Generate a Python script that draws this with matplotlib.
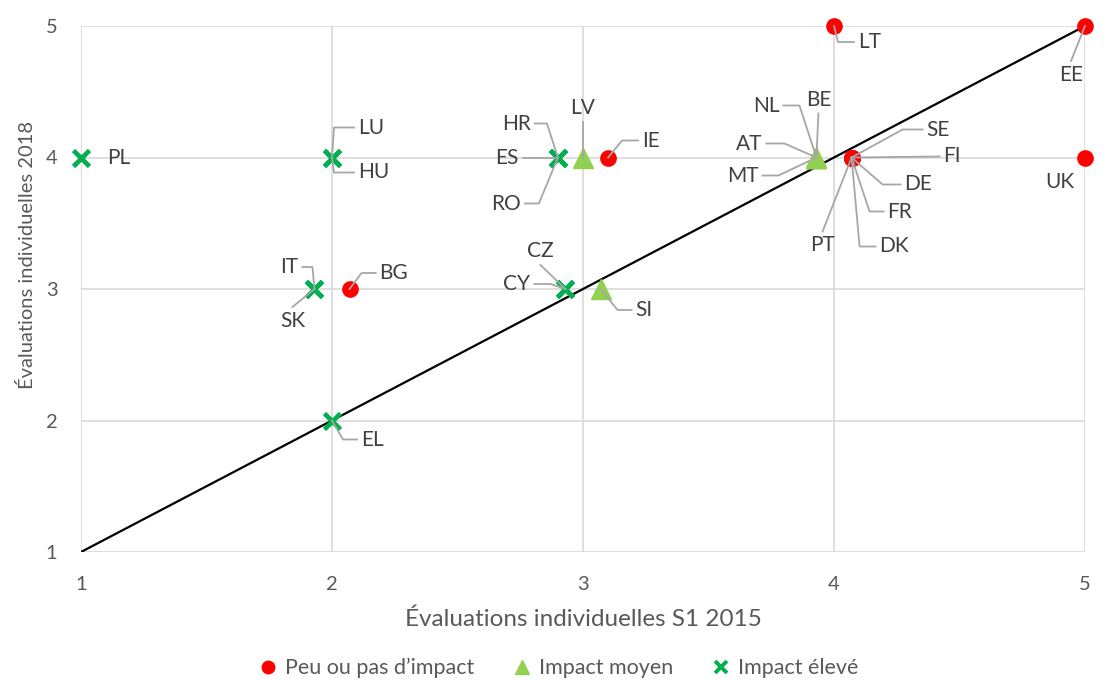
import numpy as np
import matplotlib.pyplot as plt
from matplotlib.lines import Line2D

plt.rcParams['font.family'] = ['Lato', 'DejaVu Sans']

# Données : évaluations S1 2015 (x) et 2018 (y), par groupe d'impact
peu_pays = ['IE', 'LT', 'EE', 'UK', 'BG', 'SE', 'FI', 'DE', 'FR', 'PT', 'DK']
peu_x = [3.10, 4.0, 5.0, 5.0, 2.07, 4.07, 4.07, 4.07, 4.07, 4.07, 4.07]
peu_y = [4.0, 5.0, 5.0, 4.0, 3.0, 4.0, 4.0, 4.0, 4.0, 4.0, 4.0]

moyen_pays = ['LV', 'NL', 'BE', 'AT', 'MT', 'SI']
moyen_x = [3.0, 3.93, 3.93, 3.93, 3.93, 3.07]
moyen_y = [4.0, 4.0, 4.0, 4.0, 4.0, 3.0]

eleve_pays = ['PL', 'LU', 'HU', 'HR', 'ES', 'RO', 'IT', 'SK', 'CZ', 'CY', 'EL']
eleve_x = [1.0, 2.0, 2.0, 2.90, 2.90, 2.90, 1.93, 1.93, 2.93, 2.93, 2.0]
eleve_y = [4.0, 4.0, 4.0, 4.0, 4.0, 4.0, 3.0, 3.0, 3.0, 3.0, 2.0]

ticks = [1, 2, 3, 4, 5]

# position des étiquettes (pixels, y vers le bas) : décalage, mode, longueur du coude
etiquettes = {
    'PL': (26, 0, 'N', 0), 'LU': (26, -30, 'L', 20), 'HU': (26, 15, 'L', 20),
    'HR': (-27, -34, 'R', 12), 'ES': (-39, 0, 'R', 22), 'RO': (-37, 46, 'R', 14),
    'LV': (0, -40, 'B', 0), 'IE': (34, -17, 'L', 16),
    'NL': (-37, -52, 'R', 16), 'BE': (2, -48, 'B', 0), 'AT': (-54, -14, 'R', 18),
    'MT': (-58, 18, 'R', 16),
    'SE': (75, -28, 'L', 20), 'FI': (92, -1, 'L', 0), 'DE': (53, 27, 'L', 18),
    'FR': (36, 54, 'L', 14), 'PT': (-29, 78, 'T', 0), 'DK': (28, 89, 'L', 16),
    'LT': (24, 16, 'L', 16), 'EE': (-14, 39, 'T', 0), 'UK': (-25, 25, 'C', 0),
    'IT': (-16, -22, 'R', 10), 'SK': (-22, 22, 'T', 0), 'BG': (30, -16, 'L', 14),
    'CZ': (-25, -28, 'B', 0), 'CY': (-35, -5, 'R', 16), 'SI': (35, 21, 'L', 14),
    'EL': (29, 19, 'L', 14),
}

ROUGE = '#FF0000'
VERT_CLAIR = '#92D050'
VERT = '#00B050'
GRIS_TXT = '#404040'
GRIS_AXE = '#595959'
GRIS_LIGNE = '#A6A6A6'

fig = plt.figure(figsize=(11.15, 6.8), dpi=100)
ax = fig.add_axes([81 / 1115, 1 - 552 / 680, 1004 / 1115, 526 / 680])
ax.set_xlim(1, 5)
ax.set_ylim(1, 5)
ax.set_xticks(ticks)
ax.set_yticks(ticks)
ax.grid(True, color='#D9D9D9', linewidth=1.2, zorder=0)
for s in ax.spines.values():
    s.set_visible(False)
ax.tick_params(length=0, labelsize=14.5, colors=GRIS_AXE)
ax.tick_params(axis='y', pad=17)
ax.tick_params(axis='x', pad=17)
ax.set_axisbelow(True)

# diagonale
ax.plot(ticks, ticks, color='black', linewidth=1.6, zorder=2)

ax.plot(peu_x, peu_y, 'o', color=ROUGE, markersize=11, linestyle='none',
        zorder=3, clip_on=False)
ax.plot(moyen_x, moyen_y, '^', color=VERT_CLAIR, markersize=14, linestyle='none',
        zorder=3, clip_on=False)
ax.plot(eleve_x, eleve_y, 'x', color=VERT, markersize=12, markeredgewidth=3.4,
        linestyle='none', zorder=3, clip_on=False)

# étiquettes avec lignes de rappel
inv = ax.transData.inverted()
coords = {}
for noms, xs, ys in [(peu_pays, peu_x, peu_y), (moyen_pays, moyen_x, moyen_y),
                     (eleve_pays, eleve_x, eleve_y)]:
    for n, x, y in zip(noms, xs, ys):
        coords[n] = (x, y)

for nom, (ox, oy, mode, stub) in etiquettes.items():
    px, py = ax.transData.transform(coords[nom])
    tx, ty = px + ox, py - oy
    if mode in ('L', 'N'):
        ha, va = 'left', 'center'
        pts = [(tx - 4, ty), (tx - 4 - stub, ty), (px, py)]
    elif mode == 'R':
        ha, va = 'right', 'center'
        pts = [(tx + 4, ty), (tx + 4 + stub, ty), (px, py)]
    elif mode == 'T':
        ha, va = 'center', 'top'
        pts = [(tx, ty + 4), (px, py)]
    elif mode == 'B':
        ha, va = 'center', 'bottom'
        pts = [(tx, ty - 4), (px, py)]
    else:
        ha, va = 'center', 'center'
        pts = []
    if mode not in ('N', 'C'):
        d = inv.transform(pts)
        ax.plot(d[:, 0], d[:, 1], color=GRIS_LIGNE, linewidth=1.3, zorder=4,
                clip_on=False)
    dx, dy = inv.transform((tx, ty))
    ax.text(dx, dy, nom, ha=ha, va=va, fontsize=15, color=GRIS_TXT, zorder=5)

fig.text(583 / 1115, 1 - 619 / 680, 'Évaluations individuelles S1 2015',
         ha='center', va='center', fontsize=17.5, color=GRIS_AXE)
fig.text(27 / 1115, 1 - 255 / 680, 'Évaluations individuelles 2018',
         ha='center', va='center', rotation=90, fontsize=14.5, color=GRIS_AXE)

handles = [
    Line2D([], [], marker='o', color=ROUGE, linestyle='none', markersize=9),
    Line2D([], [], marker='^', color=VERT_CLAIR, linestyle='none', markersize=10),
    Line2D([], [], marker='x', color=VERT, linestyle='none', markersize=9,
           markeredgewidth=2.8),
]
fig.legend(handles, ["Peu ou pas d\u2019impact", 'Impact moyen', 'Impact élevé'],
           loc='center', bbox_to_anchor=(559 / 1115, 1 - 668 / 680), ncol=3,
           frameon=False, fontsize=15.5, handlelength=0.8, handletextpad=0.4,
           columnspacing=1.8, labelcolor=GRIS_AXE, borderpad=0)

fig.savefig('out.png', dpi=100)
